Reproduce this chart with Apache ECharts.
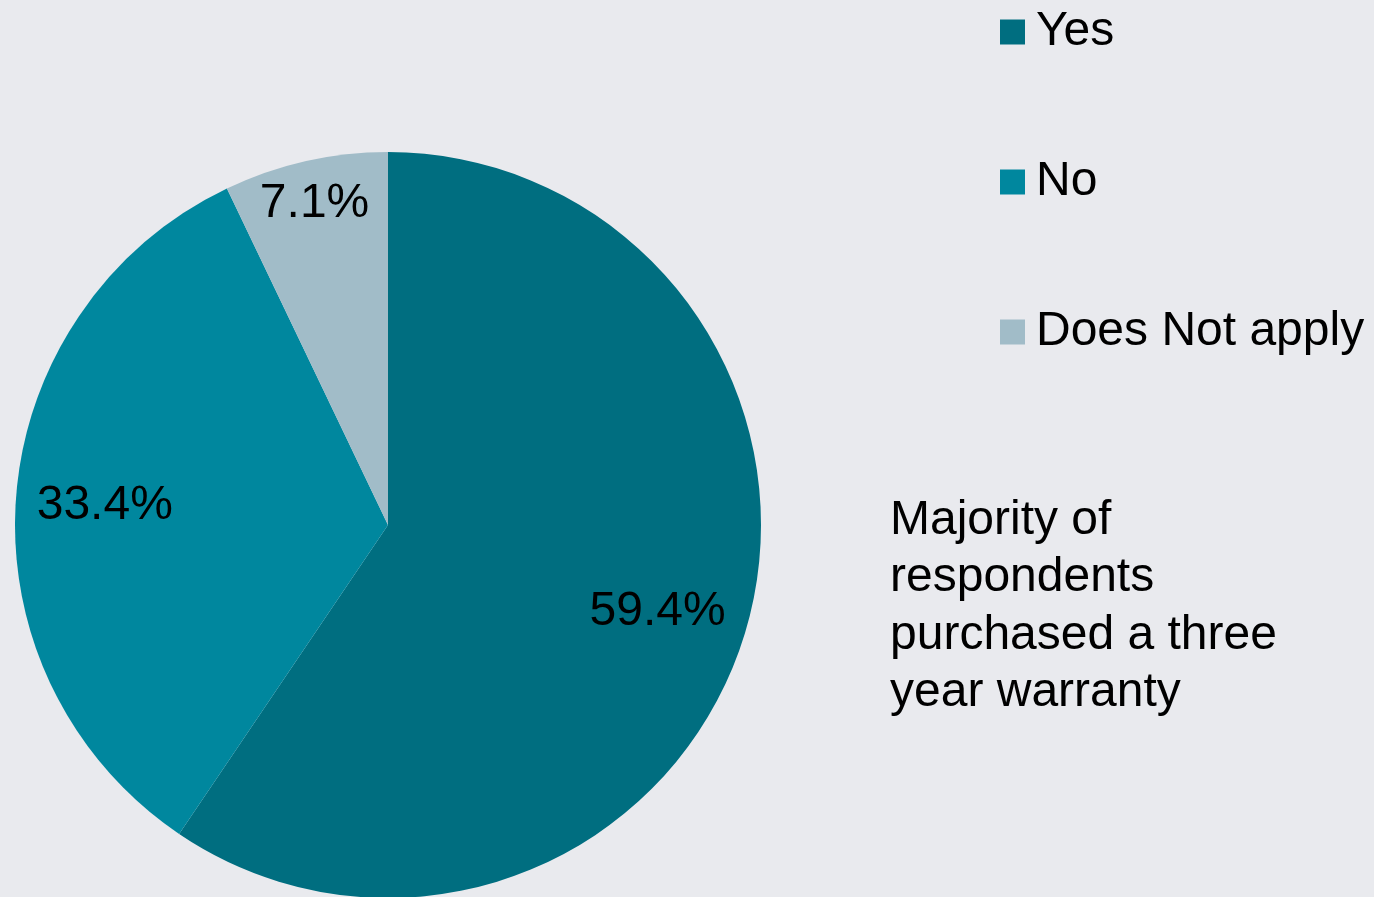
<!DOCTYPE html>
<html>
<head>
<meta charset="utf-8">
<style>
  html, body { margin: 0; padding: 0; background: #e9eaee; }
  #main { width: 1374px; height: 897px; }
</style>
<script src="https://cdn.jsdelivr.net/npm/echarts@6/dist/echarts.min.js"></script>
</head>
<body>
<div id="main"></div>
<script>
// answers to the warranty question
var categories = ['Yes', 'No', 'Does Not apply'];
var percents = [59.4, 33.4, 7.1];
var sliceColors = ['#006e80', '#00879e', '#a1bcc8'];
var note = 'Majority of\nrespondents\npurchased a three\nyear warranty';

var myChart = echarts.init(document.getElementById('main'));

var pieData = categories.map(function (name, i) {
    return { name: name, value: percents[i], itemStyle: { color: sliceColors[i] } };
});
// label ring only, same slices, no fill; small nudges to match the original placement
var labelNudge = [[0, 4], [-2, 2], [-11, -46]];
var labelData = categories.map(function (name, i) {
    return {
        name: name,
        value: percents[i],
        itemStyle: { color: 'transparent' },
        label: { offset: labelNudge[i] }
    };
});

var font = 'Liberation Sans, Arial, sans-serif';

option = {
    backgroundColor: '#e9eaee',
    animation: false,
    legend: {
        orient: 'vertical',
        left: 995,
        top: 2,
        itemWidth: 25,
        itemHeight: 25,
        itemGap: 100,
        icon: 'rect',
        selectedMode: false,
        data: categories,
        textStyle: {
            fontFamily: font,
            fontSize: 48,
            lineHeight: 50,
            color: '#000',
            padding: [0, 0, 0, 6]
        }
    },
    graphic: [{
        type: 'text',
        left: 890,
        top: 492,
        style: {
            text: note,
            fontFamily: font,
            fontSize: 48,
            lineHeight: 57.5,
            fill: '#000'
        }
    }],
    series: [{
        name: 'warranty',
        type: 'pie',
        center: [388, 525],
        radius: 373,
        startAngle: 90,
        clockwise: true,
        silent: true,
        label: { show: false },
        labelLine: { show: false },
        itemStyle: { borderWidth: 0 },
        data: pieData
    }, {
        name: 'labels',
        type: 'pie',
        center: [388, 525],
        radius: [185, 373],
        startAngle: 90,
        clockwise: true,
        silent: true,
        legendHoverLink: false,
        label: {
            show: true,
            position: 'inside',
            fontFamily: font,
            fontSize: 48,
            color: '#000',
            formatter: function (p) { return p.value.toFixed(1) + '%'; }
        },
        labelLine: { show: false },
        itemStyle: { borderWidth: 0 },
        data: labelData
    }]
};
myChart.setOption(option);
</script>
</body>
</html>
